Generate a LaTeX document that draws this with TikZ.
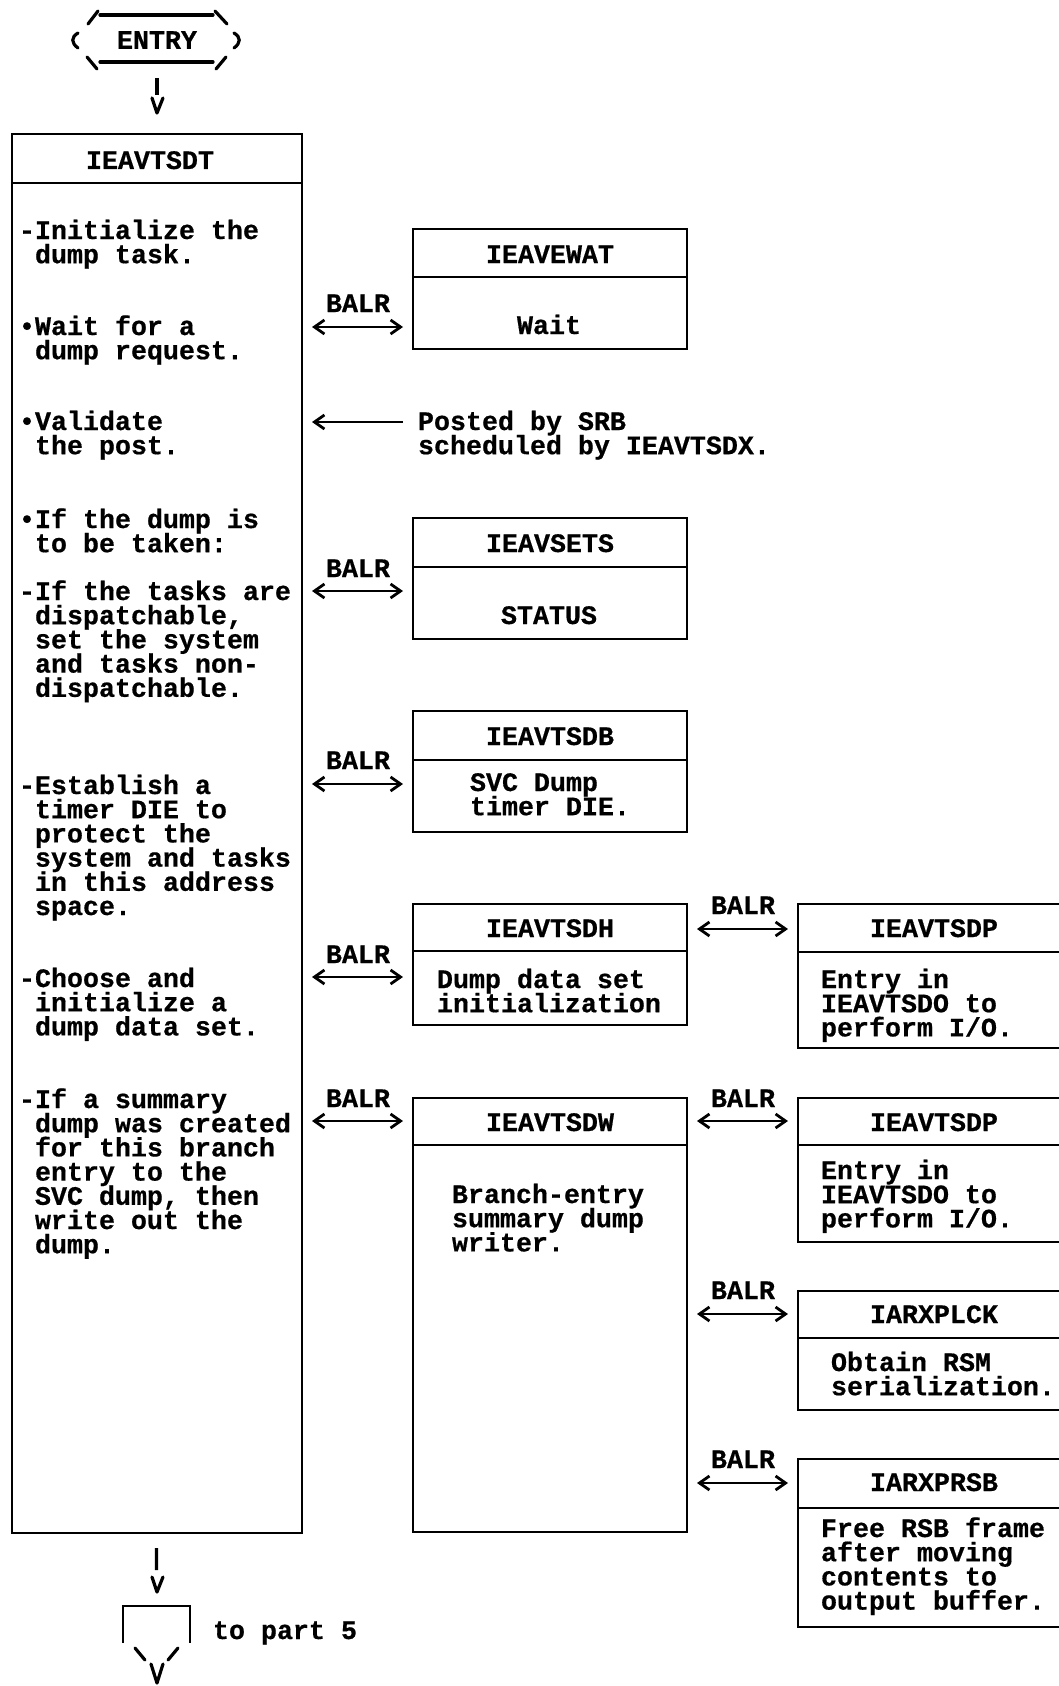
\documentclass[tikz,border=0pt]{standalone}
\usepackage{fontspec}
\setmonofont{Liberation Mono}[BoldFeatures={FakeBold=0.6}]
\usetikzlibrary{arrows.meta,fit}
\newcommand\mfont{\ttfamily\bfseries\fontsize{13.33pt}{12.1pt}\selectfont}
\newcommand\LL[1]{\hbox{#1}}
\newcommand\ind{\hphantom{x}}
\newcommand\blk[1]{\vtop{\baselineskip=12.1pt\lineskiplimit=-\maxdimen\lineskip=0pt #1}}
\newcommand\modbox[6]{%
  \node[modbox, fit={(#2,#3) (#4,#5)}] (#1) {};
  \draw[boxline] (#1.west |- 0,#6) -- (#1.east |- 0,#6);
}
\begin{document}
\begin{tikzpicture}[x=0.5pt,y=-0.5pt,
  txt/.style={inner sep=0pt, outer sep=0pt, font=\mfont},
  modbox/.style={draw, line width=1.4pt, inner sep=0pt, outer sep=0pt},
  boxline/.style={line width=1.4pt},
  glyph/.style={line width=1.6pt, line cap=round, line join=round},
  conn/.style={line width=1.6pt},
  tipbarb/.tip={Straight Barb[length=5pt,width=7pt,line width=1.4pt]},
  balr/.style={line width=1pt, shorten <=5pt, shorten >=5pt, tipbarb-tipbarb},
  postarrow/.style={line width=1pt, shorten <=7.5pt, shorten >=5pt, -tipbarb},
]
\useasboundingbox (0,0) rectangle (1059,1686);
\fill[white] (0,0) rectangle (1059,1686);

% ENTRY terminal
\node[txt, minimum width=77.5pt, minimum height=29pt] (entry) at (157,40) {ENTRY};
\draw[glyph] (100,15) -- (213,15);
\draw[glyph] (100,62) -- (213,62);
\draw[glyph] (88,24) -- (98,11);
\draw[glyph] (215,11) -- (227,24);
\draw[glyph] (87,57) -- (97,69);
\draw[glyph] (226,57) -- (216,69);
\draw[glyph] (78,33) .. controls (71,37) and (71,43) .. (78,48);
\draw[glyph] (234,33) .. controls (241,37) and (241,43) .. (234,48);

% main module box
\node[modbox, fit={(12,134) (302,1533)}] (tdt) {};
\draw[boxline] (tdt.west |- 0,183) -- (tdt.east |- 0,183);
\node[txt, anchor=base] (tdtT) at (150,169) {IEAVTSDT};

% entry connector
\draw[conn, shorten <=4.5pt, shorten >=19.5pt] (entry) -- (tdt);
\draw[glyph] (152,98) -- (157,113) -- (163,98);

\node[txt, anchor=base west] (t1) at (19,239) {\blk{\LL{-Initialize the}\LL{\ind dump task.}}};
\node[txt, anchor=base west] (t2) at (19,335) {\blk{\LL{•Wait for a}\LL{\ind dump request.}}};
\node[txt, anchor=base west] (t3) at (19,430) {\blk{\LL{•Validate}\LL{\ind the post.}}};
\node[txt, anchor=base west] (t4) at (19,528) {\blk{\LL{•If the dump is}\LL{\ind to be taken:}}};
\node[txt, anchor=base west] (t5) at (19,600) {\blk{\LL{-If the tasks are}\LL{\ind dispatchable,}\LL{\ind set the system}\LL{\ind and tasks non-}\LL{\ind dispatchable.}}};
\node[txt, anchor=base west] (t6) at (19,794) {\blk{\LL{-Establish a}\LL{\ind timer DIE to}\LL{\ind protect the}\LL{\ind system and tasks}\LL{\ind in this address}\LL{\ind space.}}};
\node[txt, anchor=base west] (t7) at (19,987) {\blk{\LL{-Choose and}\LL{\ind initialize a}\LL{\ind dump data set.}}};
\node[txt, anchor=base west] (t8) at (19,1108) {\blk{\LL{-If a summary}\LL{\ind dump was created}\LL{\ind for this branch}\LL{\ind entry to the}\LL{\ind SVC dump, then}\LL{\ind write out the}\LL{\ind dump.}}};

% middle column
\modbox{ewat}{413}{229}{687}{349}{277}
\node[txt, anchor=base] (ewatT) at (550,263) {IEAVEWAT};
\node[txt, anchor=base] (ewatB) at (549,334) {Wait};

\modbox{sets}{413}{518}{687}{639}{567}
\node[txt, anchor=base] (setsT) at (550,552) {IEAVSETS};
\node[txt, anchor=base] (setsB) at (549,624) {STATUS};

\modbox{tsdb}{413}{711}{687}{832}{760}
\node[txt, anchor=base] (tsdbT) at (550,745) {IEAVTSDB};
\node[txt, anchor=base west] (tsdbB) at (470,791) {\blk{\LL{SVC Dump}\LL{timer DIE.}}};

\modbox{tsdh}{413}{904}{687}{1025}{951}
\node[txt, anchor=base] (tsdhT) at (550,937) {IEAVTSDH};
\node[txt, anchor=base west] (tsdhB) at (437,988) {\blk{\LL{Dump data set}\LL{initialization}}};

\modbox{tsdw}{413}{1098}{687}{1532}{1145}
\node[txt, anchor=base] (tsdwT) at (550,1131) {IEAVTSDW};
\node[txt, anchor=base west] (tsdwB) at (452,1203) {\blk{\LL{Branch-entry}\LL{summary dump}\LL{writer.}}};

% posted by SRB
\node[txt, anchor=base west] (posted) at (418,430) {\blk{\LL{Posted by SRB}\LL{scheduled by IEAVTSDX.}}};
\draw[postarrow] (posted.base west |- 0,422) -- (tdt.east |- 0,422);

% right column (runs off the right edge)
\begin{scope}
\clip (0,0) rectangle (1059,1686);
\modbox{tsdp}{798}{904}{1072}{1048}{952}
\modbox{tsdpb}{798}{1098}{1072}{1242}{1145}
\modbox{plck}{798}{1291}{1072}{1410}{1338}
\modbox{prsb}{798}{1459}{1072}{1627}{1508}
\end{scope}
\node[txt, anchor=base] (tsdpT) at (934,937) {IEAVTSDP};
\node[txt, anchor=base west] (tsdpB) at (821,988) {\blk{\LL{Entry in}\LL{IEAVTSDO to}\LL{perform I/O.}}};
\node[txt, anchor=base] (tsdpbT) at (934,1131) {IEAVTSDP};
\node[txt, anchor=base west] (tsdpbB) at (821,1179) {\blk{\LL{Entry in}\LL{IEAVTSDO to}\LL{perform I/O.}}};
\node[txt, anchor=base] (plckT) at (934,1323) {IARXPLCK};
\node[txt, anchor=base west] (plckB) at (831,1371) {\blk{\LL{Obtain RSM}\LL{serialization.}}};
\node[txt, anchor=base] (prsbT) at (934,1491) {IARXPRSB};
\node[txt, anchor=base west] (prsbB) at (821,1537) {\blk{\LL{Free RSB frame}\LL{after moving}\LL{contents to}\LL{output buffer.}}};

% BALR connectors
\node[txt, anchor=base] (b1) at (358,312) {BALR};
\draw[balr] (tdt.east |- 0,327) -- (ewat.west |- 0,327);
\node[txt, anchor=base] (b2) at (358,577) {BALR};
\draw[balr] (tdt.east |- 0,591) -- (sets.west |- 0,591);
\node[txt, anchor=base] (b3) at (358,769) {BALR};
\draw[balr] (tdt.east |- 0,784) -- (tsdb.west |- 0,784);
\node[txt, anchor=base] (b4) at (358,963) {BALR};
\draw[balr] (tdt.east |- 0,977) -- (tsdh.west |- 0,977);
\node[txt, anchor=base] (b5) at (358,1107) {BALR};
\draw[balr] (tdt.east |- 0,1121) -- (tsdw.west |- 0,1121);
\node[txt, anchor=base] (b6) at (743,914) {BALR};
\draw[balr] (tsdh.east |- 0,929) -- (tsdp.west |- 0,929);
\node[txt, anchor=base] (b7) at (743,1107) {BALR};
\draw[balr] (tsdw.east |- 0,1121) -- (tsdpb.west |- 0,1121);
\node[txt, anchor=base] (b8) at (743,1299) {BALR};
\draw[balr] (tsdw.east |- 0,1314) -- (plck.west |- 0,1314);
\node[txt, anchor=base] (b9) at (743,1468) {BALR};
\draw[balr] (tsdw.east |- 0,1483) -- (prsb.west |- 0,1483);

% exit connector
\node[inner sep=0pt, outer sep=0pt, minimum width=33.5pt, minimum height=18.5pt] (off) at (156.5,1624.5) {};
\draw[conn, shorten <=7.5pt, shorten >=18pt] (tdt) -- (off);
\draw[glyph] (152,1577) -- (157,1592) -- (163,1577);
\draw[boxline, line join=miter] (off.south west) -- (off.north west) -- (off.north east) -- (off.south east);
\draw[glyph] (135,1648) -- (145,1660);
\draw[glyph] (178,1648) -- (168,1660);
\draw[glyph] (151,1664) -- (157,1683) -- (163,1664);
\node[txt, anchor=base west] (part5) at (213,1639) {to part 5};
\end{tikzpicture}
\end{document}
